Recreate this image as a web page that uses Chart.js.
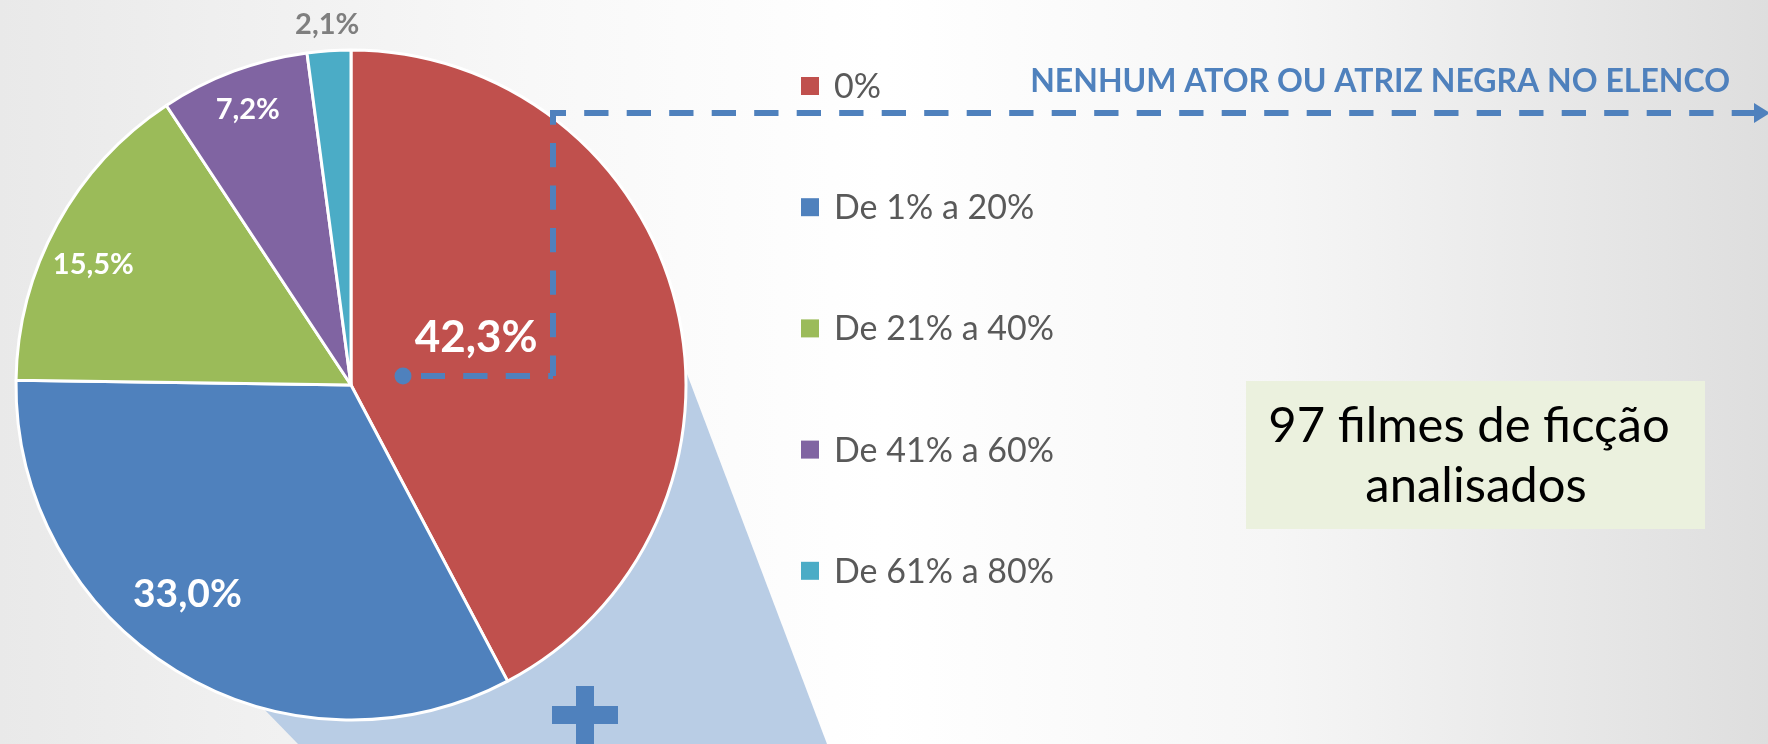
<!DOCTYPE html>
<html>
<head>
<meta charset="utf-8">
<script src="https://cdn.jsdelivr.net/npm/chart.js@4.4.0/dist/chart.umd.min.js"></script>
<style>
    html, body { margin: 0; padding: 0; background: #fff; }
    #wrap { position: relative; width: 1768px; height: 744px; }
</style>
</head>
<body>
<div id="wrap"><canvas id="castChart" width="1768" height="744"></canvas></div>
<script>
// share of black actors in the cast, per range
const categories = ['0%', 'De 1% a 20%', 'De 21% a 40%', 'De 41% a 60%', 'De 61% a 80%'];
const shares = [42.3, 33.0, 15.5, 7.2, 2.1];
const sliceColors = ['#C0504D', '#4F81BD', '#9BBB59', '#8064A2', '#4BACC6'];
const calloutTitle = 'NENHUM ATOR OU ATRIZ NEGRA NO ELENCO';
const noteLines = ['97 filmes de ficção', 'analisados'];

// label placement: fraction of radius, angle tweak (deg), font size, colour
const labelRadius = [0.40, 0.79, 0.85, 0.88, 1.08];
const labelShift = [-7, 6.7, -3.5, 0, 0];
const labelSize = [44, 39, 29, 29, 29];
const labelColor = ['#fff', '#fff', '#fff', '#fff', '#7F7F7F'];

const FONT = 'Lato, "Open Sans", sans-serif';
const ACCENT = '#4F81BD';

function fmtPct(v) {
    return v.toFixed(1).replace('.', ',') + '%';
}

function dashed(ctx, x1, y1, x2, y2, offset) {
    ctx.lineDashOffset = offset;
    ctx.beginPath();
    ctx.moveTo(x1, y1);
    ctx.lineTo(x2, y2);
    ctx.stroke();
}

const decorPlugin = {
    id: 'decor',
    beforeDraw(chart) {
        const ctx = chart.ctx;
        const w = chart.width, h = chart.height;
        ctx.save();
        const g = ctx.createLinearGradient(0, 0, w, 0);
        g.addColorStop(0, '#e9e9e9');
        g.addColorStop(0.3, '#f8f8f8');
        g.addColorStop(0.5, '#ffffff');
        g.addColorStop(0.72, '#f6f6f6');
        g.addColorStop(1, '#dedede');
        ctx.fillStyle = g;
        ctx.fillRect(0, 0, w, h);
        ctx.restore();
    },
    beforeDatasetsDraw(chart) {
        // light blue "zoom" wedge behind the pie
        const ctx = chart.ctx;
        ctx.save();
        ctx.fillStyle = '#B9CDE5';
        ctx.beginPath();
        ctx.moveTo(351, 385);
        ctx.lineTo(659, 300);
        ctx.lineTo(827, 744);
        ctx.lineTo(298, 744);
        ctx.lineTo(158, 600);
        ctx.closePath();
        ctx.fill();
        ctx.restore();
    },
    afterDatasetsDraw(chart) {
        const ctx = chart.ctx;
        const meta = chart.getDatasetMeta(0);

        // dashed pointer from the red slice to the title
        ctx.save();
        ctx.strokeStyle = ACCENT;
        ctx.lineWidth = 6;
        ctx.setLineDash([24.3, 18.2]);
        dashed(ctx, 553, 376, 421, 376, 19.5);
        dashed(ctx, 553, 113, 553, 376, 12.5);
        dashed(ctx, 550, 113, 1756, 113, 8.3);
        ctx.setLineDash([]);
        ctx.fillStyle = ACCENT;
        ctx.beginPath();
        ctx.arc(403, 376, 8.5, 0, Math.PI * 2);
        ctx.fill();
        ctx.beginPath();
        ctx.moveTo(1770, 113);
        ctx.lineTo(1754, 103);
        ctx.lineTo(1754, 123);
        ctx.closePath();
        ctx.fill();
        ctx.restore();

        // value labels
        ctx.save();
        ctx.textAlign = 'center';
        ctx.textBaseline = 'middle';
        meta.data.forEach((arc, i) => {
            const p = arc.getProps(['x', 'y', 'startAngle', 'endAngle', 'outerRadius'], true);
            const mid = (p.startAngle + p.endAngle) / 2 + labelShift[i] * Math.PI / 180;
            const r = p.outerRadius * labelRadius[i];
            ctx.font = 'bold ' + labelSize[i] + 'px ' + FONT;
            ctx.fillStyle = labelColor[i];
            ctx.fillText(fmtPct(shares[i]), p.x + Math.cos(mid) * r, p.y + Math.sin(mid) * r + 1);
        });
        ctx.restore();

        // plus sign
        ctx.save();
        ctx.fillStyle = ACCENT;
        ctx.fillRect(576, 686, 18, 58);
        ctx.fillRect(552, 706, 66, 18);
        ctx.restore();

        // legend
        ctx.save();
        ctx.font = '34px ' + FONT;
        ctx.textBaseline = 'alphabetic';
        ctx.textAlign = 'left';
        categories.forEach((c, i) => {
            const cy = 86 + i * 121.2;
            ctx.fillStyle = sliceColors[i];
            ctx.fillRect(801, cy - 9, 18, 18);
            ctx.fillStyle = '#595959';
            ctx.fillText(c, 834, cy + 12);
        });
        ctx.restore();

        // title
        ctx.save();
        ctx.font = 'bold 32px ' + FONT;
        ctx.fillStyle = ACCENT;
        ctx.textAlign = 'right';
        ctx.fillText(calloutTitle, 1730, 92);
        ctx.restore();

        // note box
        ctx.save();
        ctx.fillStyle = '#EBF1DE';
        ctx.fillRect(1246, 381, 459, 148);
        ctx.fillStyle = '#000';
        ctx.font = '49px ' + FONT;
        ctx.textAlign = 'center';
        ctx.fillText(noteLines[0], 1469, 442);
        ctx.fillText(noteLines[1], 1476, 502);
        ctx.restore();
    }
};

const chart = new Chart(document.getElementById('castChart'), {
    type: 'pie',
    data: {
        labels: categories,
        datasets: [{
            data: shares,
            backgroundColor: sliceColors,
            borderColor: '#ffffff',
            borderWidth: 3
        }]
    },
    options: {
        responsive: false,
        animation: false,
        devicePixelRatio: 1,
        layout: {
            padding: { left: 14.5, top: 48.5, right: 1080.5, bottom: 22.5 }
        },
        plugins: {
            legend: { display: false },
            tooltip: { enabled: false }
        }
    },
    plugins: [decorPlugin]
});
</script>
</body>
</html>
